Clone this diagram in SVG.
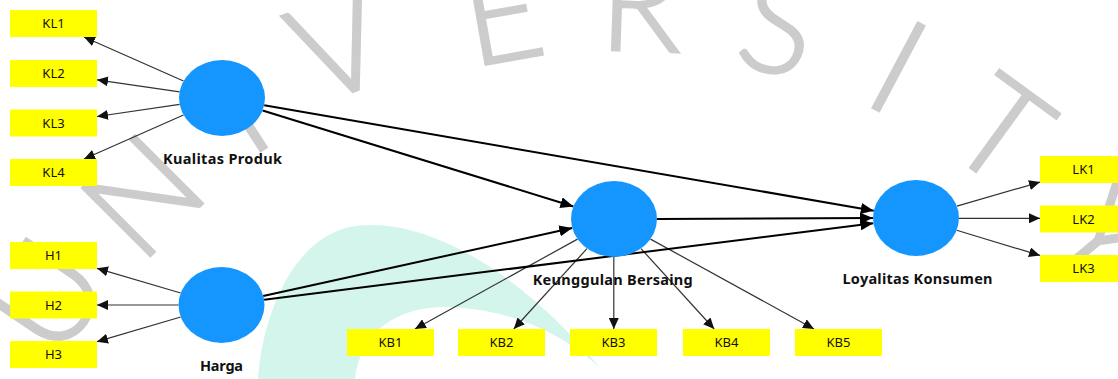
<svg xmlns="http://www.w3.org/2000/svg" width="1118" height="379" viewBox="0 0 1118 379">
<defs>
<style>
.wm{font-family:Lato,"Noto Sans",sans-serif;font-weight:300;font-size:136px;fill:#cccccc;stroke:#cccccc;stroke-width:2.5;text-anchor:middle}
.box{fill:#ffff00}
.bt{font-family:"Noto Sans","DejaVu Sans",sans-serif;font-size:13px;fill:#111;text-anchor:middle}
.lv{fill:#1496fe}
.lt{font-family:"Noto Sans","DejaVu Sans",sans-serif;font-size:14.5px;font-weight:bold;fill:#111;text-anchor:middle}
.thin{stroke:#333;stroke-width:1.2;fill:none;marker-end:url(#ah)}
.thick{stroke:#000;stroke-width:2;fill:none;marker-end:url(#ahb)}
</style>
<marker id="ah" viewBox="0 0 11 10" refX="11" refY="5" markerWidth="11" markerHeight="10" orient="auto" markerUnits="userSpaceOnUse"><path d="M0,0 L11,5 L0,10 z" fill="#111"/></marker>
<marker id="ahb" viewBox="0 0 13 11" refX="13" refY="5.5" markerWidth="13" markerHeight="11" orient="auto" markerUnits="userSpaceOnUse"><path d="M0,0 L13,5.5 L0,11 z" fill="#000"/></marker>
</defs>
<rect width="1118" height="379" fill="#ffffff"/>
<g id="watermark">
<path d="M258,379 C262,320 290,240 350,227 C420,213 520,270 600,368 C570,340 520,310 450,307 C400,305 360,330 355,379 Z" fill="#d3f5eb"/>
<text class="wm" x="45" y="344" transform="rotate(-56 45 295)">U</text>
<text class="wm" x="142" y="244" transform="rotate(-45 142 195)">N</text>
<text class="wm" x="237" y="157" transform="rotate(-33 237 108)">I</text>
<text class="wm" x="338" y="94" transform="rotate(-21 338 45)">V</text>
<text class="wm" x="502" y="61" transform="rotate(-10 502 12)">E</text>
<text class="wm" x="641" y="51" transform="rotate(2 641 2)">R</text>
<text class="wm" x="779" y="73" transform="rotate(14 779 24)">S</text>
<text class="wm" x="899" y="115" transform="rotate(28 899 66)">I</text>
<text class="wm" x="1002" y="179" transform="rotate(36 1002 130)">T</text>
<text class="wm" x="1105" y="284" transform="rotate(50 1105 235)">Y</text>
</g>
<g id="connectors">
<line class="thin" x1="183.5" y1="81" x2="84" y2="37"/>
<line class="thin" x1="179.6" y1="91.8" x2="97" y2="79.8"/>
<line class="thin" x1="179.6" y1="104.3" x2="97" y2="116.5"/>
<line class="thin" x1="183.5" y1="115" x2="84" y2="159"/>
<line class="thin" x1="180.7" y1="293" x2="97" y2="268.3"/>
<line class="thin" x1="178.5" y1="305" x2="97" y2="305"/>
<line class="thin" x1="180.7" y1="317" x2="97" y2="341.7"/>
<line class="thin" x1="577.5" y1="239.1" x2="414.9" y2="329"/>
<line class="thin" x1="587" y1="248.6" x2="513.8" y2="329"/>
<line class="thin" x1="613.8" y1="257" x2="613.8" y2="329"/>
<line class="thin" x1="641" y1="248.6" x2="714.2" y2="329"/>
<line class="thin" x1="650.5" y1="239.1" x2="814" y2="329"/>
<line class="thin" x1="956.9" y1="206.2" x2="1040" y2="182.1"/>
<line class="thin" x1="959" y1="218.3" x2="1040" y2="218.3"/>
<line class="thin" x1="956.7" y1="230.3" x2="1040" y2="255.4"/>
<line class="thick" x1="262.6" y1="110.5" x2="573.4" y2="206.5"/>
<line class="thick" x1="264.2" y1="105.3" x2="873.8" y2="210.7"/>
<line class="thick" x1="263.2" y1="295.9" x2="572.3" y2="228.1"/>
<line class="thick" x1="264.1" y1="299.7" x2="873.4" y2="223.3"/>
<line class="thick" x1="657" y1="218.9" x2="873" y2="218.1"/>
</g>
<g id="KL1"><rect class="box" x="10" y="10" width="87" height="27"/><text class="bt" x="53.5" y="28.3">KL1</text></g>
<g id="KL2"><rect class="box" x="10" y="60" width="87" height="27"/><text class="bt" x="53.5" y="78.3">KL2</text></g>
<g id="KL3"><rect class="box" x="10" y="109.5" width="87" height="27"/><text class="bt" x="53.5" y="127.8">KL3</text></g>
<g id="KL4"><rect class="box" x="10" y="159" width="87" height="27"/><text class="bt" x="53.5" y="177.3">KL4</text></g>
<g id="H1"><rect class="box" x="10" y="242" width="87" height="27"/><text class="bt" x="53.5" y="260.3">H1</text></g>
<g id="H2"><rect class="box" x="10" y="291.5" width="87" height="27"/><text class="bt" x="53.5" y="309.8">H2</text></g>
<g id="H3"><rect class="box" x="10" y="341" width="87" height="27"/><text class="bt" x="53.5" y="359.3">H3</text></g>
<g id="KB1"><rect class="box" x="347" y="329" width="87" height="27"/><text class="bt" x="390.5" y="347.3">KB1</text></g>
<g id="KB2"><rect class="box" x="458" y="329" width="87" height="27"/><text class="bt" x="501.5" y="347.3">KB2</text></g>
<g id="KB3"><rect class="box" x="570" y="329" width="87" height="27"/><text class="bt" x="613.5" y="347.3">KB3</text></g>
<g id="KB4"><rect class="box" x="683" y="329" width="87" height="27"/><text class="bt" x="726.5" y="347.3">KB4</text></g>
<g id="KB5"><rect class="box" x="795" y="329" width="87" height="27"/><text class="bt" x="838.5" y="347.3">KB5</text></g>
<g id="LK1"><rect class="box" x="1040" y="156" width="87" height="27"/><text class="bt" x="1083.5" y="174.3">LK1</text></g>
<g id="LK2"><rect class="box" x="1040" y="205.5" width="87" height="27"/><text class="bt" x="1083.5" y="223.8">LK2</text></g>
<g id="LK3"><rect class="box" x="1040" y="255" width="87" height="27"/><text class="bt" x="1083.5" y="273.3">LK3</text></g>
<g id="KualitasProduk"><ellipse class="lv" cx="222" cy="98" rx="43" ry="38"/><text class="lt" x="222.5" y="163.5" textLength="119">Kualitas Produk</text></g>
<g id="Harga"><ellipse class="lv" cx="221.5" cy="305" rx="43" ry="38"/><text class="lt" x="221.5" y="371" textLength="43">Harga</text></g>
<g id="KeunggulanBersaing"><ellipse class="lv" cx="614" cy="219" rx="43" ry="38"/><text class="lt" x="612.7" y="285" textLength="160">Keunggulan Bersaing</text></g>
<g id="LoyalitasKonsumen"><ellipse class="lv" cx="916" cy="218" rx="43" ry="38"/><text class="lt" x="917.5" y="284" textLength="150">Loyalitas Konsumen</text></g>
</svg>
